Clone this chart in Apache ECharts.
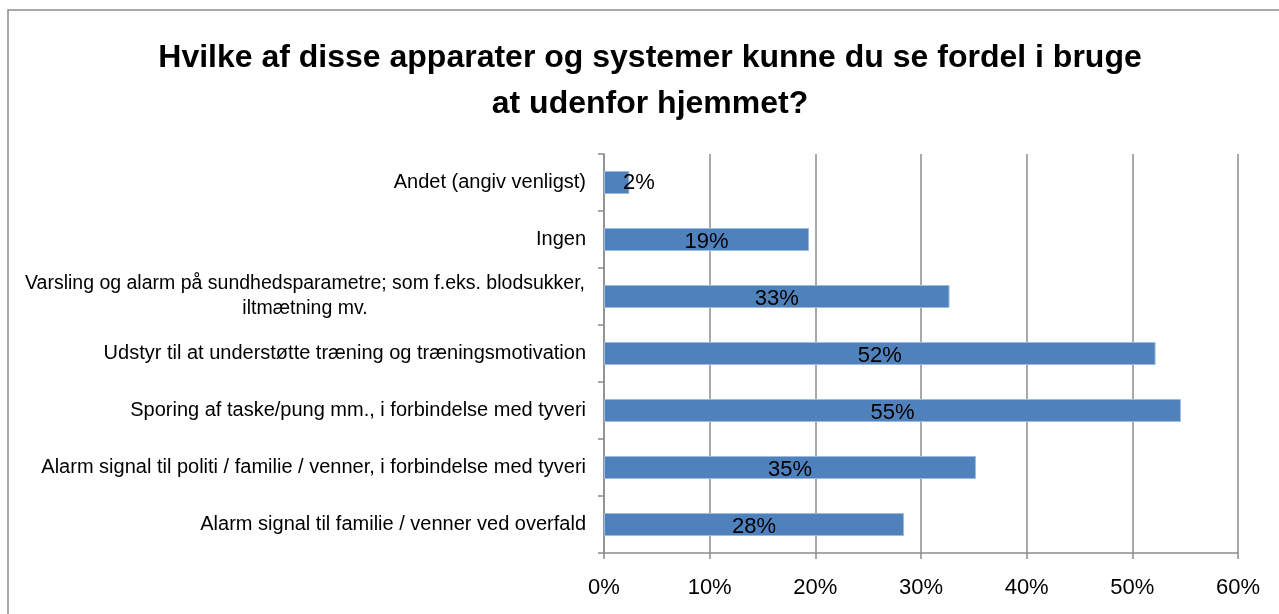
<!DOCTYPE html>
<html>
<head>
<meta charset="utf-8">
<script src="https://cdn.jsdelivr.net/npm/echarts@6/dist/echarts.min.js"></script>
<style>
  html, body { margin: 0; padding: 0; background: #fff; }
  #chart { width: 1279px; height: 614px; }
</style>
</head>
<body>
<div id="chart"></div>
<script>
// data (top to bottom as in the picture)
const categories = [
  "Andet (angiv venligst)",
  "Ingen",
  "Varsling og alarm på sundhedsparametre; som f.eks. blodsukker,\niltmætning mv.",
  "Udstyr til at understøtte træning og træningsmotivation",
  "Sporing af taske/pung mm., i forbindelse med tyveri",
  "Alarm signal til politi / familie / venner, i forbindelse med tyveri",
  "Alarm signal til familie / venner ved overfald",
];
const values = [2.4, 19.4, 32.7, 52.2, 54.6, 35.2, 28.4];
const xTicks = [0, 10, 20, 30, 40, 50, 60];

const FONT = "Liberation Sans";
const GRID_COLOR = "#8c8c8c";

const chart = echarts.init(document.getElementById("chart"));

// category axis runs bottom-up, so reverse
const cats = categories.slice().reverse();
const vals = values.slice().reverse();

chart.setOption({
  animation: false,
  textStyle: { fontFamily: FONT },
  title: {
    text: "Hvilke af disse apparater og systemer kunne du se fordel i bruge\nat udenfor hjemmet?",
    left: 645,
    top: 30,
    textAlign: "center",
    textStyle: {
      fontFamily: FONT,
      fontSize: 32,
      fontWeight: "bold",
      color: "#000",
      lineHeight: 46,
    },
  },
  graphic: [
    {
      type: "rect",
      shape: { x: 8, y: 10, width: 1300, height: 700 },
      style: { fill: "none", stroke: "#8c8c8c", lineWidth: 1.5 },
      silent: true,
    },
  ],
  grid: { left: 604, right: 41, top: 154, bottom: 61, containLabel: false },
  xAxis: {
    type: "value",
    min: xTicks[0],
    max: xTicks[xTicks.length - 1],
    interval: 10,
    axisLine: { show: true, lineStyle: { color: GRID_COLOR, width: 1.5 } },
    axisTick: { show: true, length: 6, lineStyle: { color: GRID_COLOR, width: 1.5 } },
    splitLine: { show: true, lineStyle: { color: GRID_COLOR, width: 1.5 } },
    axisLabel: {
      margin: 24,
      fontSize: 22,
      color: "#000",
      fontFamily: FONT,
      formatter: (v) => v + "%",
    },
  },
  yAxis: {
    type: "category",
    data: cats,
    axisLine: { show: true, lineStyle: { color: GRID_COLOR, width: 1.5 } },
    axisTick: { show: true, length: 6, lineStyle: { color: GRID_COLOR, width: 1.5 } },
    axisLabel: {
      margin: 18,
      fontSize: 20,
      color: "#000",
      fontFamily: FONT,
      lineHeight: 25,
      formatter: (v) => {
        if (v.indexOf("\n") < 0) return v;
        // wrapped label: centre the lines against each other
        return v.split("\n").map((s) => "{w|" + s + "}").join("\n");
      },
      rich: {
        w: { width: 562, align: "center", fontSize: 19.5, lineHeight: 25, color: "#000", fontFamily: FONT },
      },
    },
  },
  series: [
    {
      type: "bar",
      data: vals.map((v, i) => ({
        value: v,
        label: v < 5 ? { position: "insideLeft", offset: [14, 0] } : undefined,
      })),
      barWidth: 23,
      itemStyle: { color: "#4f81bd", borderColor: "#9dbbe0", borderWidth: 1 },
      label: {
        show: true,
        position: "inside",
        color: "#000",
        fontSize: 22,
        fontFamily: FONT,
        offset: [0, 2],
        formatter: (p) => Math.round(p.value) + "%",
      },
    },
  ],
});
</script>
</body>
</html>
